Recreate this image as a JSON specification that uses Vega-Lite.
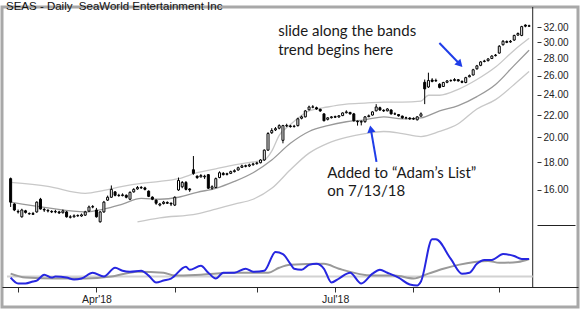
{
"$schema": "https://vega.github.io/schema/vega-lite/v6.json",
"width": 580, "height": 310,
"autosize": {"type": "fit", "contains": "padding"},
"padding": {"left": 2, "top": 1, "right": 2, "bottom": 3},
"background": "white",
"config": {
  "view": {"stroke": "#a8a8a8", "strokeWidth": 3},
  "axis": {"labelFont": "Liberation Sans", "labelColor": "#222222", "domainColor": "#222222", "tickColor": "#333333", "grid": false, "title": null}
},
"title": {"text": "SEAS - Daily\u00a0 SeaWorld Entertainment Inc", "anchor": "start", "frame": "group", "orient": "top", "offset": -15, "baseline": "alphabetic", "font": "Liberation Sans", "fontSize": 11.5, "fontWeight": "normal", "color": "#111111", "dx": 4},
"datasets": {
  "bars": [
{"i":0,"d":"2018-02-27","o":16.77,"h":16.85,"l":14.86,"c":15.17},
{"i":1,"d":"2018-02-28","o":15.05,"h":15.10,"l":14.60,"c":14.67},
{"i":2,"d":"2018-03-01","o":14.58,"h":14.70,"l":14.45,"c":14.55},
{"i":3,"d":"2018-03-02","o":14.25,"h":14.75,"l":14.20,"c":14.67},
{"i":4,"d":"2018-03-05","o":14.62,"h":14.68,"l":14.45,"c":14.52},
{"i":5,"d":"2018-03-06","o":14.45,"h":14.52,"l":14.38,"c":14.43},
{"i":6,"d":"2018-03-07","o":14.40,"h":14.55,"l":14.36,"c":14.45},
{"i":7,"d":"2018-03-08","o":14.55,"h":15.22,"l":14.50,"c":15.17},
{"i":8,"d":"2018-03-09","o":15.36,"h":15.45,"l":14.70,"c":14.73},
{"i":9,"d":"2018-03-12","o":14.70,"h":14.80,"l":14.55,"c":14.67},
{"i":10,"d":"2018-03-13","o":14.65,"h":14.72,"l":14.52,"c":14.61},
{"i":11,"d":"2018-03-14","o":14.58,"h":14.66,"l":14.48,"c":14.55},
{"i":12,"d":"2018-03-15","o":14.55,"h":14.68,"l":14.47,"c":14.58},
{"i":13,"d":"2018-03-16","o":14.55,"h":14.62,"l":14.42,"c":14.49},
{"i":14,"d":"2018-03-19","o":14.50,"h":14.70,"l":14.45,"c":14.61},
{"i":15,"d":"2018-03-20","o":14.55,"h":14.60,"l":14.20,"c":14.25},
{"i":16,"d":"2018-03-21","o":14.22,"h":14.35,"l":14.15,"c":14.25},
{"i":17,"d":"2018-03-22","o":14.25,"h":14.40,"l":14.20,"c":14.31},
{"i":18,"d":"2018-03-23","o":14.33,"h":14.40,"l":14.25,"c":14.31},
{"i":19,"d":"2018-03-26","o":14.30,"h":14.45,"l":14.25,"c":14.37},
{"i":20,"d":"2018-03-27","o":14.35,"h":14.62,"l":14.30,"c":14.55},
{"i":21,"d":"2018-03-28","o":14.60,"h":14.95,"l":14.55,"c":14.86},
{"i":22,"d":"2018-03-29","o":14.88,"h":14.98,"l":14.78,"c":14.86},
{"i":23,"d":"2018-04-02","o":14.67,"h":14.80,"l":14.20,"c":14.25},
{"i":24,"d":"2018-04-03","o":13.95,"h":14.60,"l":13.90,"c":14.55},
{"i":25,"d":"2018-04-04","o":14.55,"h":15.25,"l":14.50,"c":15.17},
{"i":26,"d":"2018-04-05","o":15.30,"h":15.60,"l":15.25,"c":15.49},
{"i":27,"d":"2018-04-06","o":15.49,"h":16.29,"l":15.45,"c":16.02},
{"i":28,"d":"2018-04-09","o":15.85,"h":15.90,"l":15.55,"c":15.62},
{"i":29,"d":"2018-04-10","o":15.62,"h":15.72,"l":15.52,"c":15.60},
{"i":30,"d":"2018-04-11","o":15.60,"h":15.75,"l":15.55,"c":15.65},
{"i":31,"d":"2018-04-12","o":15.62,"h":15.68,"l":15.42,"c":15.49},
{"i":32,"d":"2018-04-13","o":15.36,"h":15.88,"l":15.30,"c":15.82},
{"i":33,"d":"2018-04-16","o":15.85,"h":16.10,"l":15.80,"c":16.02},
{"i":34,"d":"2018-04-17","o":16.05,"h":16.25,"l":16.00,"c":16.15},
{"i":35,"d":"2018-04-18","o":16.15,"h":16.25,"l":16.05,"c":16.12},
{"i":36,"d":"2018-04-19","o":16.12,"h":16.20,"l":15.95,"c":16.02},
{"i":37,"d":"2018-04-20","o":15.90,"h":15.95,"l":15.50,"c":15.55},
{"i":38,"d":"2018-04-23","o":15.50,"h":15.55,"l":15.30,"c":15.36},
{"i":39,"d":"2018-04-24","o":15.30,"h":15.35,"l":15.00,"c":15.10},
{"i":40,"d":"2018-04-25","o":14.98,"h":15.12,"l":14.90,"c":15.05},
{"i":41,"d":"2018-04-26","o":15.08,"h":15.25,"l":15.02,"c":15.17},
{"i":42,"d":"2018-04-27","o":15.15,"h":15.22,"l":15.05,"c":15.10},
{"i":43,"d":"2018-04-30","o":15.10,"h":15.15,"l":14.92,"c":15.05},
{"i":44,"d":"2018-05-01","o":14.98,"h":15.55,"l":14.92,"c":15.49},
{"i":45,"d":"2018-05-02","o":15.98,"h":16.85,"l":15.92,"c":16.64},
{"i":46,"d":"2018-05-03","o":16.20,"h":16.60,"l":16.10,"c":16.50},
{"i":47,"d":"2018-05-04","o":16.50,"h":16.60,"l":15.95,"c":16.02},
{"i":48,"d":"2018-05-07","o":16.05,"h":16.10,"l":15.85,"c":15.98},
{"i":49,"d":"2018-05-08","o":17.42,"h":18.47,"l":17.05,"c":17.15},
{"i":50,"d":"2018-05-09","o":16.95,"h":17.00,"l":16.75,"c":16.85},
{"i":51,"d":"2018-05-10","o":16.90,"h":17.10,"l":16.85,"c":16.99},
{"i":52,"d":"2018-05-11","o":16.90,"h":17.05,"l":16.75,"c":16.95},
{"i":53,"d":"2018-05-14","o":17.06,"h":17.10,"l":16.05,"c":16.10},
{"i":54,"d":"2018-05-15","o":16.10,"h":16.30,"l":16.00,"c":16.20},
{"i":55,"d":"2018-05-16","o":16.15,"h":16.85,"l":16.10,"c":16.77},
{"i":56,"d":"2018-05-17","o":16.85,"h":17.30,"l":16.80,"c":17.20},
{"i":57,"d":"2018-05-18","o":17.15,"h":17.25,"l":17.00,"c":17.06},
{"i":58,"d":"2018-05-21","o":17.08,"h":17.20,"l":17.00,"c":17.13},
{"i":59,"d":"2018-05-22","o":17.15,"h":17.35,"l":17.10,"c":17.28},
{"i":60,"d":"2018-05-23","o":17.28,"h":17.45,"l":17.22,"c":17.35},
{"i":61,"d":"2018-05-24","o":17.40,"h":17.65,"l":17.35,"c":17.57},
{"i":62,"d":"2018-05-25","o":17.60,"h":17.80,"l":17.55,"c":17.71},
{"i":63,"d":"2018-05-29","o":17.72,"h":17.80,"l":17.60,"c":17.68},
{"i":64,"d":"2018-05-30","o":17.70,"h":17.88,"l":17.62,"c":17.79},
{"i":65,"d":"2018-05-31","o":17.80,"h":17.95,"l":17.72,"c":17.86},
{"i":66,"d":"2018-06-01","o":17.88,"h":18.02,"l":17.80,"c":17.94},
{"i":67,"d":"2018-06-04","o":17.95,"h":18.22,"l":17.90,"c":18.16},
{"i":68,"d":"2018-06-05","o":18.16,"h":19.00,"l":18.10,"c":18.94},
{"i":69,"d":"2018-06-06","o":18.94,"h":20.45,"l":18.90,"c":20.33},
{"i":70,"d":"2018-06-07","o":20.40,"h":20.80,"l":20.30,"c":20.60},
{"i":71,"d":"2018-06-08","o":20.65,"h":20.90,"l":20.55,"c":20.76},
{"i":72,"d":"2018-06-11","o":20.80,"h":21.15,"l":20.70,"c":21.03},
{"i":73,"d":"2018-06-12","o":19.75,"h":21.10,"l":19.50,"c":21.03},
{"i":74,"d":"2018-06-13","o":21.00,"h":21.20,"l":20.90,"c":21.05},
{"i":75,"d":"2018-06-14","o":21.00,"h":21.10,"l":20.85,"c":20.94},
{"i":76,"d":"2018-06-15","o":20.95,"h":21.10,"l":20.85,"c":20.98},
{"i":77,"d":"2018-06-18","o":21.03,"h":21.75,"l":20.95,"c":21.65},
{"i":78,"d":"2018-06-19","o":21.70,"h":21.95,"l":21.60,"c":21.83},
{"i":79,"d":"2018-06-20","o":21.83,"h":22.48,"l":21.78,"c":22.39},
{"i":80,"d":"2018-06-21","o":22.50,"h":22.90,"l":22.45,"c":22.77},
{"i":81,"d":"2018-06-22","o":22.75,"h":22.95,"l":22.65,"c":22.78},
{"i":82,"d":"2018-06-25","o":22.70,"h":22.80,"l":22.50,"c":22.58},
{"i":83,"d":"2018-06-26","o":22.55,"h":22.60,"l":22.30,"c":22.39},
{"i":84,"d":"2018-06-27","o":22.11,"h":22.15,"l":21.42,"c":21.47},
{"i":85,"d":"2018-06-28","o":21.60,"h":21.80,"l":21.50,"c":21.74},
{"i":86,"d":"2018-06-29","o":21.75,"h":21.90,"l":21.68,"c":21.83},
{"i":87,"d":"2018-07-02","o":21.85,"h":21.95,"l":21.72,"c":21.80},
{"i":88,"d":"2018-07-03","o":21.82,"h":22.00,"l":21.75,"c":21.93},
{"i":89,"d":"2018-07-05","o":21.95,"h":22.25,"l":21.90,"c":22.20},
{"i":90,"d":"2018-07-06","o":22.22,"h":22.45,"l":22.15,"c":22.30},
{"i":91,"d":"2018-07-09","o":22.25,"h":22.30,"l":22.05,"c":22.11},
{"i":92,"d":"2018-07-10","o":22.11,"h":22.20,"l":21.40,"c":21.47},
{"i":93,"d":"2018-07-11","o":21.42,"h":21.50,"l":21.03,"c":21.38},
{"i":94,"d":"2018-07-12","o":21.35,"h":21.50,"l":21.05,"c":21.40},
{"i":95,"d":"2018-07-13","o":21.38,"h":21.90,"l":21.30,"c":21.83},
{"i":96,"d":"2018-07-16","o":21.85,"h":22.05,"l":21.80,"c":21.93},
{"i":97,"d":"2018-07-17","o":22.00,"h":22.35,"l":21.95,"c":22.30},
{"i":98,"d":"2018-07-18","o":22.40,"h":23.05,"l":22.35,"c":22.77},
{"i":99,"d":"2018-07-19","o":22.70,"h":22.80,"l":22.40,"c":22.48},
{"i":100,"d":"2018-07-20","o":22.45,"h":22.55,"l":22.30,"c":22.39},
{"i":101,"d":"2018-07-23","o":22.40,"h":22.65,"l":22.35,"c":22.58},
{"i":102,"d":"2018-07-24","o":22.48,"h":22.55,"l":22.05,"c":22.11},
{"i":103,"d":"2018-07-25","o":22.10,"h":22.25,"l":22.00,"c":22.11},
{"i":104,"d":"2018-07-26","o":22.05,"h":22.10,"l":21.85,"c":21.93},
{"i":105,"d":"2018-07-27","o":21.90,"h":21.95,"l":21.65,"c":21.74},
{"i":106,"d":"2018-07-30","o":21.75,"h":21.85,"l":21.60,"c":21.74},
{"i":107,"d":"2018-07-31","o":21.72,"h":21.80,"l":21.55,"c":21.65},
{"i":108,"d":"2018-08-01","o":21.62,"h":21.78,"l":21.55,"c":21.68},
{"i":109,"d":"2018-08-02","o":21.56,"h":21.90,"l":21.50,"c":21.83},
{"i":110,"d":"2018-08-03","o":21.90,"h":22.25,"l":21.85,"c":22.11},
{"i":111,"d":"2018-08-06","o":25.30,"h":25.60,"l":23.05,"c":24.60},
{"i":112,"d":"2018-08-07","o":24.80,"h":26.36,"l":24.70,"c":25.50},
{"i":113,"d":"2018-08-08","o":25.55,"h":25.75,"l":25.30,"c":25.40},
{"i":114,"d":"2018-08-09","o":25.45,"h":25.70,"l":25.35,"c":25.50},
{"i":115,"d":"2018-08-10","o":25.10,"h":25.20,"l":24.65,"c":24.75},
{"i":116,"d":"2018-08-13","o":24.85,"h":25.35,"l":24.80,"c":25.28},
{"i":117,"d":"2018-08-14","o":25.30,"h":25.55,"l":25.20,"c":25.45},
{"i":118,"d":"2018-08-15","o":25.48,"h":25.62,"l":25.35,"c":25.50},
{"i":119,"d":"2018-08-16","o":25.50,"h":25.75,"l":25.40,"c":25.60},
{"i":120,"d":"2018-08-17","o":25.58,"h":25.65,"l":25.38,"c":25.45},
{"i":121,"d":"2018-08-20","o":25.40,"h":25.50,"l":25.20,"c":25.30},
{"i":122,"d":"2018-08-21","o":25.28,"h":25.90,"l":25.20,"c":25.81},
{"i":123,"d":"2018-08-22","o":25.90,"h":26.15,"l":25.85,"c":26.03},
{"i":124,"d":"2018-08-23","o":26.10,"h":26.80,"l":26.05,"c":26.69},
{"i":125,"d":"2018-08-24","o":26.80,"h":27.25,"l":26.70,"c":27.14},
{"i":126,"d":"2018-08-27","o":27.20,"h":27.70,"l":27.10,"c":27.60},
{"i":127,"d":"2018-08-28","o":27.65,"h":27.85,"l":27.55,"c":27.71},
{"i":128,"d":"2018-08-29","o":27.75,"h":28.05,"l":27.65,"c":27.95},
{"i":129,"d":"2018-08-30","o":28.00,"h":28.40,"l":27.95,"c":28.30},
{"i":130,"d":"2018-08-31","o":28.35,"h":28.55,"l":28.25,"c":28.42},
{"i":131,"d":"2018-09-04","o":28.66,"h":29.65,"l":28.60,"c":29.51},
{"i":132,"d":"2018-09-05","o":29.70,"h":30.30,"l":29.60,"c":30.14},
{"i":133,"d":"2018-09-06","o":30.10,"h":30.25,"l":29.90,"c":30.01},
{"i":134,"d":"2018-09-07","o":30.05,"h":30.30,"l":29.95,"c":30.14},
{"i":135,"d":"2018-09-10","o":30.30,"h":31.00,"l":30.20,"c":30.90},
{"i":136,"d":"2018-09-11","o":30.95,"h":31.30,"l":30.85,"c":31.16},
{"i":137,"d":"2018-09-12","o":30.90,"h":32.20,"l":30.80,"c":32.09},
{"i":138,"d":"2018-09-13","o":32.30,"h":32.40,"l":32.00,"c":32.15},
{"i":139,"d":"2018-09-14","o":32.20,"h":32.35,"l":32.05,"c":32.15}
  ],
  "bands": [
{"band":"up","i":0,"p":16.50},{"band":"up","i":10,"p":16.22},{"band":"up","i":20,"p":15.75},{"band":"up","i":25,"p":15.95},{"band":"up","i":30,"p":16.22},{"band":"up","i":35,"p":16.43},{"band":"up","i":40,"p":16.57},{"band":"up","i":45,"p":16.77},{"band":"up","i":50,"p":17.20},{"band":"up","i":55,"p":17.49},{"band":"up","i":60,"p":17.79},{"band":"up","i":65,"p":18.01},{"band":"up","i":68,"p":18.16},{"band":"up","i":70,"p":18.86},{"band":"up","i":72,"p":20.17},{"band":"up","i":75,"p":21.12},{"band":"up","i":80,"p":22.39},{"band":"up","i":85,"p":22.77},{"band":"up","i":90,"p":23.05},{"band":"up","i":95,"p":23.15},{"band":"up","i":100,"p":23.25},{"band":"up","i":105,"p":23.25},{"band":"up","i":110,"p":23.35},{"band":"up","i":112,"p":23.94},{"band":"up","i":115,"p":23.94},{"band":"up","i":120,"p":24.55},{"band":"up","i":125,"p":25.60},{"band":"up","i":130,"p":27.0},{"band":"up","i":135,"p":29.02},{"band":"up","i":139,"p":30.52},
{"band":"mid","i":0,"p":15.17},{"band":"mid","i":10,"p":14.80},{"band":"mid","i":20,"p":14.55},{"band":"mid","i":25,"p":14.73},{"band":"mid","i":30,"p":15.05},{"band":"mid","i":35,"p":15.42},{"band":"mid","i":40,"p":15.36},{"band":"mid","i":45,"p":15.49},{"band":"mid","i":50,"p":15.82},{"band":"mid","i":55,"p":16.09},{"band":"mid","i":60,"p":16.57},{"band":"mid","i":65,"p":17.20},{"band":"mid","i":70,"p":18.16},{"band":"mid","i":75,"p":19.50},{"band":"mid","i":80,"p":20.51},{"band":"mid","i":85,"p":21.03},{"band":"mid","i":90,"p":21.38},{"band":"mid","i":95,"p":21.56},{"band":"mid","i":100,"p":21.83},{"band":"mid","i":105,"p":21.65},{"band":"mid","i":110,"p":21.74},{"band":"mid","i":115,"p":22.40},{"band":"mid","i":120,"p":22.90},{"band":"mid","i":125,"p":23.80},{"band":"mid","i":130,"p":25.07},{"band":"mid","i":135,"p":27.2},{"band":"mid","i":139,"p":29.02},
{"band":"lo","i":34,"p":13.95},{"band":"lo","i":40,"p":14.19},{"band":"lo","i":50,"p":14.43},{"band":"lo","i":55,"p":14.73},{"band":"lo","i":60,"p":15.05},{"band":"lo","i":65,"p":15.36},{"band":"lo","i":70,"p":16.09},{"band":"lo","i":75,"p":17.42},{"band":"lo","i":80,"p":18.70},{"band":"lo","i":85,"p":19.50},{"band":"lo","i":90,"p":20.0},{"band":"lo","i":95,"p":20.33},{"band":"lo","i":100,"p":20.51},{"band":"lo","i":105,"p":20.33},{"band":"lo","i":110,"p":20.07},{"band":"lo","i":115,"p":20.51},{"band":"lo","i":120,"p":21.2},{"band":"lo","i":125,"p":22.58},{"band":"lo","i":130,"p":23.5},{"band":"lo","i":135,"p":25.07},{"band":"lo","i":139,"p":26.5}
  ],
  "osc": [
{"i":0,"v":1.56},{"i":2,"v":0.63},{"i":4,"v":0.63},{"i":6,"v":0.94},{"i":7,"v":1.09},{"i":9,"v":2.03},{"i":11,"v":1.56},{"i":12,"v":1.72},{"i":15,"v":1.56},{"i":17,"v":1.25},{"i":19,"v":1.41},{"i":22,"v":2.34},{"i":25,"v":1.72},{"i":28,"v":3.13},{"i":30,"v":2.66},{"i":32,"v":2.5},{"i":35,"v":2.66},{"i":37,"v":1.88},{"i":39,"v":0.78},{"i":41,"v":1.09},{"i":43,"v":1.41},{"i":47,"v":3.28},{"i":48,"v":2.81},{"i":51,"v":3.44},{"i":53,"v":2.34},{"i":55,"v":1.41},{"i":57,"v":2.34},{"i":60,"v":2.34},{"i":63,"v":2.97},{"i":65,"v":2.5},{"i":68,"v":2.66},{"i":71,"v":5.63},{"i":73,"v":5.31},{"i":75,"v":3.75},{"i":76,"v":2.97},{"i":78,"v":2.81},{"i":80,"v":3.59},{"i":82,"v":3.75},{"i":84,"v":2.97},{"i":86,"v":0.78},{"i":88,"v":1.41},{"i":91,"v":2.34},{"i":94,"v":0.63},{"i":97,"v":2.19},{"i":99,"v":2.81},{"i":101,"v":2.34},{"i":104,"v":1.56},{"i":107,"v":0.47},{"i":109,"v":0.31},{"i":110,"v":0.94},{"i":113,"v":7.66},{"i":114,"v":7.66},{"i":118,"v":4.53},{"i":121,"v":2.19},{"i":123,"v":2.34},{"i":125,"v":3.75},{"i":127,"v":4.38},{"i":129,"v":4.38},{"i":132,"v":5.31},{"i":135,"v":5.0},{"i":137,"v":4.53},{"i":139,"v":4.53}
  ],
  "avg": [
{"i":0,"v":2.19},{"i":4,"v":1.56},{"i":12,"v":1.41},{"i":20,"v":1.41},{"i":27,"v":1.72},{"i":34,"v":2.5},{"i":41,"v":2.34},{"i":44,"v":1.88},{"i":51,"v":2.03},{"i":60,"v":2.34},{"i":69,"v":2.34},{"i":72,"v":3.13},{"i":75,"v":3.59},{"i":84,"v":3.75},{"i":88,"v":2.97},{"i":97,"v":1.88},{"i":103,"v":1.88},{"i":108,"v":1.41},{"i":112,"v":2.19},{"i":116,"v":2.97},{"i":120,"v":3.59},{"i":128,"v":4.22},{"i":131,"v":3.91},{"i":136,"v":4.06},{"i":139,"v":4.53}
  ],
  "notes": [
{"i":71.73,"p":30.77,"text":"slide along the bands"},
{"i":71.73,"p":28.42,"text":"trend begins here"},
{"i":84.9,"p":16.85,"text":"Added to “Adam’s List”"},
{"i":84.9,"p":15.56,"text":"on 7/13/18"}
  ],
  "arrows": [
{"id":1,"i":114.94,"p":29.92,"i2":120.44,"p2":27.32},
{"id":2,"i":98.08,"p":18.01,"i2":96.55,"p2":20.73}
  ]
},
"layer": [
  {
    "layer": [
      {
        "data": {"name": "bands"},
        "transform": [{"filter": {"field": "band", "equal": "up"}}],
        "mark": {"type": "line", "color": "#c8c8c8", "strokeWidth": 1.3, "interpolate": "monotone"},
        "encoding": {
          "x": {"field": "i", "type": "quantitative", "scale": {"domain": [-0.975, 150.76], "nice": false, "zero": false},
                "axis": {"orient": "bottom", "offset": -20, "values": [2, 23, 44, 66, 87, 108, 131], "labelExpr": "datum.value == 23 ? \"Apr'18\" : (datum.value == 87 ? \"Jul'18\" : '')", "tickSize": 5, "labelPadding": 2, "labelFontSize": 10.5, "labelOverlap": false, "labelFlush": false}},
          "y": {"field": "p", "type": "quantitative", "scale": {"type": "log", "domain": [9.697, 34.89], "nice": false},
                "axis": {"orient": "right", "offset": -41, "values": [16, 18, 20, 22, 24, 26, 28, 30, 32], "format": ".2f", "tickSize": 4, "labelPadding": 2, "labelFontSize": 10, "domain": false}}
        }
      },
      {
        "data": {"name": "bands"},
        "transform": [{"filter": {"field": "band", "equal": "lo"}}],
        "mark": {"type": "line", "color": "#c8c8c8", "strokeWidth": 1.3, "interpolate": "monotone"},
        "encoding": {"x": {"field": "i", "type": "quantitative"}, "y": {"field": "p", "type": "quantitative"}}
      },
      {
        "data": {"name": "bands"},
        "transform": [{"filter": {"field": "band", "equal": "mid"}}],
        "mark": {"type": "line", "color": "#999999", "strokeWidth": 1.3, "interpolate": "monotone"},
        "encoding": {"x": {"field": "i", "type": "quantitative"}, "y": {"field": "p", "type": "quantitative"}}
      },
      {
        "data": {"name": "bars"},
        "mark": {"type": "rule", "color": "black", "strokeWidth": 1},
        "encoding": {"x": {"field": "i", "type": "quantitative"}, "y": {"field": "l", "type": "quantitative"}, "y2": {"field": "h"}}
      },
      {
        "data": {"name": "bars"},
        "mark": {"type": "bar", "size": 2, "stroke": "black", "strokeWidth": 1},
        "encoding": {
          "x": {"field": "i", "type": "quantitative"},
          "y": {"field": "o", "type": "quantitative"}, "y2": {"field": "c"},
          "fill": {"condition": {"test": "datum.c < datum.o", "value": "black"}, "value": "white"}
        }
      },
      {
        "data": {"name": "notes"},
        "mark": {"type": "text", "font": "Lato", "fontSize": 15, "align": "left", "baseline": "alphabetic", "color": "#1a1a1a"},
        "encoding": {"x": {"field": "i", "type": "quantitative"}, "y": {"field": "p", "type": "quantitative"}, "text": {"field": "text"}}
      },
      {
        "data": {"name": "arrows"},
        "mark": {"type": "rule", "color": "#1f3de8", "strokeWidth": 2},
        "encoding": {"x": {"field": "i", "type": "quantitative"}, "y": {"field": "p", "type": "quantitative"}, "x2": {"field": "i2"}, "y2": {"field": "p2"}}
      },
      {
        "data": {"name": "arrows"},
        "transform": [{"filter": {"field": "id", "equal": 1}}],
        "mark": {"type": "point", "shape": "triangle-up", "filled": true, "color": "#1f3de8", "opacity": 1, "size": 70, "angle": 136},
        "encoding": {"x": {"field": "i2", "type": "quantitative"}, "y": {"field": "p2", "type": "quantitative"}}
      },
      {
        "data": {"name": "arrows"},
        "transform": [{"filter": {"field": "id", "equal": 2}}],
        "mark": {"type": "point", "shape": "triangle-up", "filled": true, "color": "#1f3de8", "opacity": 1, "size": 70, "angle": 350},
        "encoding": {"x": {"field": "i2", "type": "quantitative"}, "y": {"field": "p2", "type": "quantitative"}}
      },
      {
        "data": {"values": [{}]},
        "mark": {"type": "rule", "color": "#222222", "strokeWidth": 1},
        "encoding": {"x": {"datum": 139.96, "type": "quantitative"}, "y": {"datum": 34.89, "type": "quantitative"}, "y2": {"datum": 10.543}}
      }
    ]
  },
  {
    "layer": [
      {
        "data": {"values": [{}]},
        "mark": {"type": "rule", "color": "#d2d2d2", "strokeWidth": 2},
        "encoding": {
          "y": {"datum": 1.72, "type": "quantitative", "scale": {"domain": [-3.125, 44.69], "nice": false, "zero": false},
                "axis": {"orient": "left", "offset": -573, "values": [10], "labels": false, "tickSize": 38, "domain": false, "tickColor": "#222222"}},
          "x": {"datum": -0.975, "type": "quantitative"}, "x2": {"datum": 139.96}
        }
      },
      {
        "data": {"name": "avg"},
        "mark": {"type": "line", "color": "#999999", "strokeWidth": 2, "interpolate": "monotone"},
        "encoding": {"x": {"field": "i", "type": "quantitative"}, "y": {"field": "v", "type": "quantitative"}}
      },
      {
        "data": {"name": "osc"},
        "mark": {"type": "line", "color": "#2626e0", "strokeWidth": 2, "interpolate": "monotone"},
        "encoding": {"x": {"field": "i", "type": "quantitative"}, "y": {"field": "v", "type": "quantitative"}}
      }
    ]
  }
],
"resolve": {"scale": {"y": "independent"}, "axis": {"y": "independent"}}
}
